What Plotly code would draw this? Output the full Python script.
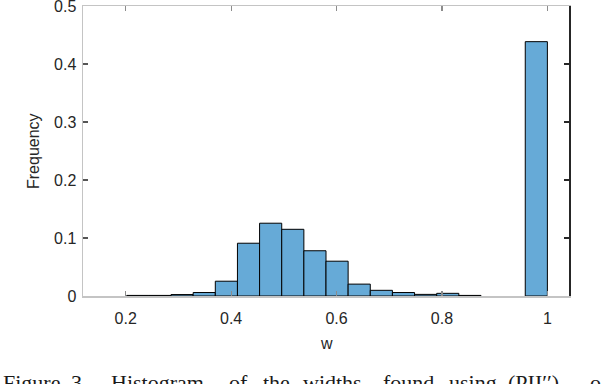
import plotly.graph_objects as go

# ---- data ----
bin_width = 0.042
bin_left_edges = [0.202, 0.244, 0.286, 0.328, 0.370, 0.412, 0.454, 0.496, 0.538, 0.580,
                  0.622, 0.664, 0.706, 0.748, 0.790, 0.832, 0.874, 0.916, 0.958]
frequency = [0.001, 0.001, 0.0025, 0.006, 0.0255, 0.091, 0.1255, 0.115, 0.078, 0.060,
             0.0205, 0.0098, 0.006, 0.0028, 0.0046, 0.001, None, None, 0.4385]
x_tick_vals = [0.2, 0.4, 0.6, 0.8, 1.0]
x_tick_text = ["0.2", "0.4", "0.6", "0.8", "1"]
y_tick_vals = [0, 0.1, 0.2, 0.3, 0.4, 0.5]
y_tick_text = ["0", "0.1", "0.2", "0.3", "0.4", "0.5"]
caption_words = ["Figure", "3.", "Histogram", "of", "the", "widths", "found", "using", "(PII′′)", "o"]
caption_px = [2, 70, 110, 228, 262, 302, 382, 448, 507, 589]

W, H = 604, 384
L, R, T, B = 83, 35, 6, 88
pw, ph = W - L - R, H - T - B

def px_x(p):
    return (p - L) / pw

def px_y(p):
    return (H - B - p) / ph

centers = [e + bin_width / 2 for e in bin_left_edges]

fig = go.Figure()
fig.add_trace(go.Bar(
    x=centers, y=frequency, width=bin_width,
    marker=dict(color="#66aad7", line=dict(color="black", width=1)),
    hoverinfo="skip", showlegend=False,
))
# dummy trace for the right-side axis
fig.add_trace(go.Scatter(x=[None], y=[None], yaxis="y2", showlegend=False, hoverinfo="skip"))

tickfont = dict(family="Liberation Sans, Arial, sans-serif", size=16, color="#262626")

fig.update_layout(
    width=W, height=H,
    margin=dict(l=L, r=R, t=T, b=B, autoexpand=False),
    paper_bgcolor="white", plot_bgcolor="white",
    xaxis=dict(
        range=[0.119, 1.041], tickvals=x_tick_vals, ticktext=x_tick_text,
        ticks="inside", ticklen=5, tickwidth=1.2, tickcolor="#8c8c8c",
        showline=True, linecolor="#c4c4c4", linewidth=1.5, mirror="ticks",
        showgrid=False, zeroline=False, tickfont=tickfont, ticklabelstandoff=7,
        automargin=False, ticklabeloverflow="allow",
    ),
    yaxis=dict(
        range=[0, 0.5], tickvals=y_tick_vals, ticktext=y_tick_text,
        ticks="inside", ticklen=5, tickwidth=1.2, tickcolor="#555555",
        showline=True, linecolor="#c4c4c4", linewidth=1.5,
        showgrid=False, zeroline=False, tickfont=tickfont, ticklabelstandoff=2,
        automargin=False, ticklabeloverflow="allow",
    ),
    yaxis2=dict(
        range=[0, 0.5], tickvals=y_tick_vals, overlaying="y", side="right",
        ticks="inside", ticklen=5, tickwidth=1.2, tickcolor="#262626",
        showline=True, linecolor="#262626", linewidth=1.5,
        showticklabels=False, showgrid=False, zeroline=False, automargin=False,
    ),
    bargap=0,
)

# axis titles
fig.add_annotation(text="w", xref="paper", yref="paper", x=px_x(326), y=px_y(343),
                   xanchor="center", yanchor="middle", showarrow=False, font=tickfont)
fig.add_annotation(text="Frequency", xref="paper", yref="paper", x=px_x(33), y=px_y(151),
                   xanchor="center", yanchor="middle", showarrow=False, font=tickfont,
                   textangle=-90)

cap_font = dict(family="Liberation Serif, Times New Roman, serif", size=22, color="#1a1a1a")
cap_top_px = 369
for word, px in zip(caption_words, caption_px):
    fig.add_annotation(
        text=word, xref="paper", yref="paper",
        x=px_x(px), y=px_y(cap_top_px),
        xanchor="left", yanchor="top", showarrow=False,
        font=cap_font, borderpad=0,
    )

fig.write_html(
    "out.html",
    config={"displayModeBar": False, "staticPlot": True},
    post_script="document.body.style.margin='0';document.body.style.overflow='hidden';",
)
